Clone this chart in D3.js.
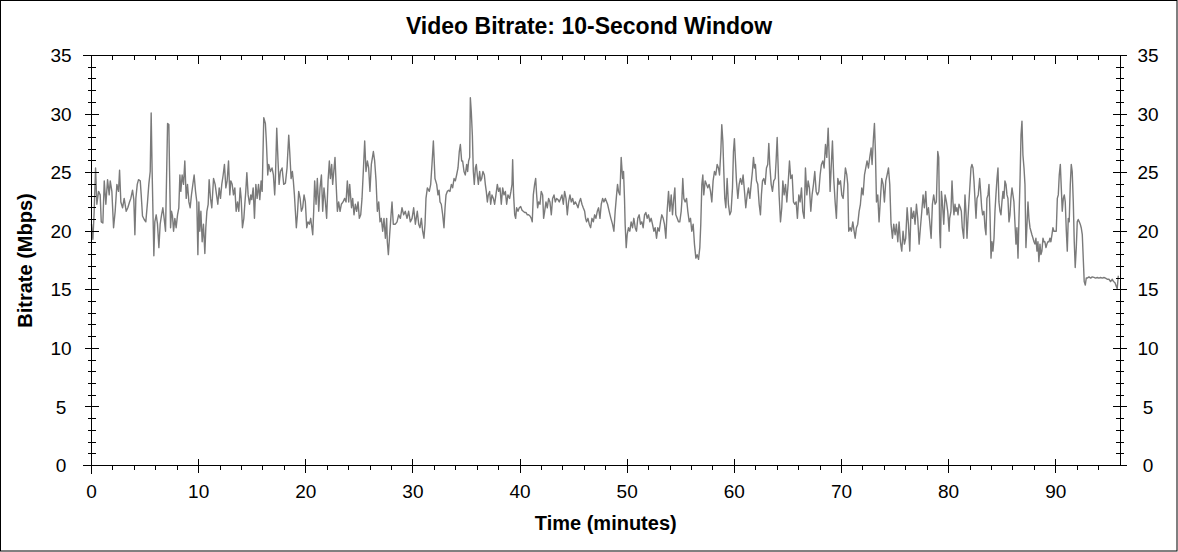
<!DOCTYPE html>
<html>
<head>
<meta charset="utf-8">
<script src="https://cdn.jsdelivr.net/npm/d3@7"></script>
<style>
  body { margin: 0; background: #fff; }
  svg { display: block; font-family: Arial, "Liberation Sans", sans-serif; }
</style>
</head>
<body>
<svg id="chart"></svg>
<script>
// bitrate readings [minutes, Mbps] in six chunks
var part1 = [[0,20.6],[0.13,19.3],[0.25,21.7],[0.38,25.4],[0.5,22.3],[0.66,23.4],[0.81,23.1],[0.91,20.8],[1.06,20.7],[1.19,24.3],[1.34,22.3],[1.5,24.4],[1.65,23.1],[1.75,24.3],[1.9,23.4],[2.06,20.3],[2.21,21.7],[2.37,24.0],[2.52,23.4],[2.62,25.2],[2.74,22.5],[2.9,22.0],[3.05,22.8],[3.24,21.7],[3.39,22.0],[3.55,22.5],[3.67,22.8],[3.83,23.5],[3.95,22.7],[4.05,19.7],[4.14,22.8],[4.27,24.0],[4.39,24.4],[4.55,24.3],[4.64,23.1],[4.76,21.3],[4.92,21.0],[5.07,20.8],[5.23,22.5],[5.35,24.0],[5.48,25.1],[5.57,30.1],[5.66,25.1],[5.76,20.6],[5.82,17.9],[5.91,20.8],[6.04,21.4],[6.16,20.6],[6.29,18.6],[6.41,20.6],[6.54,21.4],[6.66,22.0],[6.78,21.1],[6.91,20.0],[7.03,25.7],[7.1,29.2],[7.22,29.1],[7.28,25.4],[7.38,20.3],[7.47,21.7],[7.56,21.3],[7.66,20.0],[7.78,21.1],[7.9,20.3],[8.03,21.4],[8.15,22.0],[8.25,24.8],[8.34,23.4],[8.46,24.8],[8.59,24.0],[8.71,26.0],[8.84,22.8],[8.96,24.0],[9.09,22.5],[9.21,22.0],[9.33,23.1],[9.46,24.0],[9.58,24.8],[9.71,23.4],[9.83,22.5],[9.93,18.0],[10.02,22.5],[10.11,20.0],[10.21,21.7],[10.33,19.1],[10.45,20.6],[10.58,18.1],[10.67,20.3],[10.77,21.7],[10.89,22.3],[10.98,24.4],[11.11,22.8],[11.23,22.0],[11.39,24.5],[11.54,24.0],[11.67,23.1],[11.79,22.3],[11.92,23.7],[12.04,22.8],[12.16,24.0],[12.29,24.8],[12.41,25.7],[12.54,23.7],[12.66,24.3],[12.79,26.0],[12.91,23.1],[13.0,24.3],[13.13,24.0],[13.25,23.1],[13.38,23.7],[13.5,21.7],[13.63,22.5],[13.75,21.7],[13.88,23.7],[13.97,22.8],[14.09,20.3],[14.22,21.1],[14.31,22.3],[14.4,23.4],[14.5,25.0],[14.62,23.1],[14.75,22.3],[14.87,23.1],[14.96,22.7],[15.09,23.7],[15.21,21.1],[15.34,24.0],[15.46,22.8],[15.59,24.0],[15.71,22.7],[15.83,24.3],[15.93,23.4]];

var part2 = [[16.08,29.7],[16.23,29.2],[16.32,27.7],[16.45,24.8],[16.54,25.7],[16.7,25.1],[16.85,25.4],[16.98,24.8],[17.1,23.1],[17.16,24.3],[17.29,28.8],[17.41,26.0],[17.51,24.0],[17.63,25.1],[17.79,25.4],[17.94,24.0],[18.1,24.1],[18.25,25.4],[18.41,28.2],[18.5,26.8],[18.63,24.5],[18.75,25.1],[18.84,24.3],[18.94,23.1],[19.03,21.7],[19.12,20.3],[19.22,21.4],[19.34,23.4],[19.47,22.8],[19.59,21.7],[19.71,22.0],[19.84,23.1],[19.96,22.5],[20.09,20.3],[20.21,20.8],[20.34,20.6],[20.46,21.1],[20.65,19.7],[20.74,21.7],[20.83,24.3],[20.96,22.3],[21.08,24.5],[21.21,21.7],[21.33,23.7],[21.46,24.8],[21.58,21.7],[21.7,23.7],[21.83,22.5],[21.95,21.1],[22.08,24.3],[22.2,26.0],[22.3,24.5],[22.42,25.7],[22.51,24.0],[22.73,26.3],[22.82,24.3],[22.95,21.7],[23.07,22.5],[23.2,21.7],[23.32,22.3],[23.48,22.5],[23.63,22.8],[23.76,22.5],[23.88,24.3],[24.01,22.5],[24.1,24.0],[24.27,22.0],[24.38,22.8],[24.5,21.4],[24.63,22.3],[24.75,21.7],[24.88,22.5],[25.0,21.1],[25.13,21.4],[25.25,22.8],[25.37,25.1],[25.5,27.7],[25.62,25.1],[25.75,26.0],[25.87,25.4],[25.99,23.4],[26.12,25.7],[26.31,26.8],[26.43,26.0],[26.56,24.3],[26.68,21.7],[26.81,22.5],[26.93,20.8],[27.05,21.1],[27.18,20.0],[27.3,21.1],[27.43,19.4],[27.55,21.1],[27.61,19.1],[27.71,18.0],[27.83,19.7],[27.96,21.4],[28.05,22.5],[28.17,20.6],[28.36,20.6],[28.52,20.8],[28.67,21.4],[28.83,21.1],[28.98,22.0],[29.14,21.4],[29.29,21.7],[29.45,21.1],[29.6,21.7],[29.76,20.8],[29.92,21.1],[30.07,22.0],[30.23,20.6],[30.41,21.7],[30.54,20.6],[30.66,20.3],[30.79,21.1],[30.91,20.0],[31.03,19.4],[31.13,20.6],[31.22,22.8],[31.35,23.7],[31.53,23.4],[31.66,24.0],[31.78,25.7],[31.91,27.7]];

var part3 = [[32.06,24.5],[32.22,24.0],[32.34,23.1],[32.44,23.5],[32.53,22.5],[32.65,22.3],[32.78,21.4],[32.9,20.3],[33.0,22.0],[33.09,23.1],[33.21,23.4],[33.34,23.5],[33.46,23.4],[33.59,24.0],[33.71,23.7],[33.84,24.5],[33.96,24.3],[34.08,24.8],[34.21,25.4],[34.33,26.8],[34.43,27.4],[34.55,26.0],[34.64,26.0],[34.77,25.1],[34.89,24.8],[35.02,25.7],[35.11,25.1],[35.2,26.0],[35.3,26.3],[35.36,31.4],[35.45,30.2],[35.55,28.2],[35.64,25.1],[35.73,24.0],[35.83,25.4],[35.92,25.7],[36.01,24.8],[36.11,24.0],[36.23,25.1],[36.32,24.3],[36.42,24.5],[36.54,25.1],[36.67,24.8],[36.76,24.0],[36.85,23.4],[36.95,22.5],[37.04,23.1],[37.16,23.4],[37.26,22.3],[37.38,23.1],[37.51,22.8],[37.63,22.3],[37.75,23.1],[37.88,24.0],[38.0,23.4],[38.13,23.7],[38.25,22.3],[38.38,23.7],[38.5,23.1],[38.63,23.4],[38.75,22.3],[38.87,23.1],[39.03,22.8],[39.15,23.4],[39.25,24.0],[39.31,26.1],[39.4,23.1],[39.5,21.4],[39.59,21.1],[39.68,22.0],[39.81,21.7],[39.93,22.0],[40.06,22.1],[40.18,21.8],[40.3,21.7],[40.43,21.6],[40.55,21.6],[40.68,21.4],[40.8,21.4],[40.93,21.3],[41.05,21.1],[41.14,20.8],[41.24,23.1],[41.36,24.0],[41.46,24.5],[41.55,23.1],[41.64,22.0],[41.74,22.5],[41.86,22.3],[41.98,23.4],[42.11,23.1],[42.2,21.1],[42.3,21.7],[42.42,22.5],[42.54,22.0],[42.67,22.8],[42.79,22.5],[42.92,21.4],[43.04,22.8],[43.17,23.1],[43.29,22.5],[43.41,22.8],[43.54,22.7],[43.66,22.5],[43.79,22.8],[43.91,23.1],[44.04,22.3],[44.16,23.4],[44.29,22.8],[44.41,21.4],[44.53,22.5],[44.66,23.1],[44.78,22.5],[44.91,22.8],[45.03,22.3],[45.16,22.5],[45.28,22.3],[45.41,22.0],[45.53,22.5],[45.65,22.8],[45.78,22.3],[45.9,22.0],[46.03,21.7],[46.12,21.1],[46.21,20.8],[46.34,21.1],[46.46,20.6],[46.59,20.3],[46.71,21.1],[46.84,20.8],[46.96,21.4],[47.08,21.1],[47.21,21.7],[47.33,22.0],[47.46,21.1],[47.58,22.3],[47.71,22.8],[47.83,22.5],[47.96,22.8]];

var part4 = [[48.17,22.3],[48.32,21.7],[48.48,21.1],[48.63,20.6],[48.76,20.0],[48.88,21.7],[49.01,23.1],[49.1,24.0],[49.19,23.4],[49.32,23.1],[49.44,26.3],[49.57,24.5],[49.66,25.1],[49.75,22.8],[49.81,20.6],[49.91,18.6],[50.0,19.7],[50.12,20.3],[50.25,20.0],[50.37,20.8],[50.5,20.3],[50.62,21.1],[50.75,20.3],[50.87,20.0],[50.99,21.1],[51.12,21.4],[51.24,20.6],[51.37,20.8],[51.49,20.3],[51.62,21.4],[51.74,21.6],[51.87,21.1],[51.99,21.4],[52.12,20.8],[52.24,21.1],[52.36,20.6],[52.49,20.0],[52.61,20.3],[52.74,19.4],[52.86,20.3],[52.99,20.0],[53.11,20.8],[53.23,21.4],[53.36,21.1],[53.48,20.6],[53.61,19.4],[53.73,21.7],[53.86,23.4],[53.98,21.7],[54.11,23.1],[54.23,21.4],[54.35,22.8],[54.45,23.7],[54.54,21.4],[54.67,21.1],[54.79,20.8],[54.91,20.8],[55.04,21.7],[55.1,22.5],[55.19,24.5],[55.29,22.8],[55.41,22.5],[55.54,22.8],[55.66,21.7],[55.79,20.8],[55.91,21.1],[56.03,20.0],[56.16,20.6],[56.28,18.9],[56.41,17.7],[56.53,18.0],[56.66,17.6],[56.78,18.6],[56.87,20.6],[56.97,24.0],[57.06,24.8],[57.15,23.1],[57.28,24.3],[57.4,24.0],[57.53,23.7],[57.65,24.0],[57.78,23.4],[57.9,22.5],[58.02,24.3],[58.15,25.1],[58.27,24.8],[58.4,25.7],[58.52,25.4],[58.62,24.8],[58.74,26.8],[58.83,29.1],[58.93,27.7],[59.02,25.1],[59.11,22.8],[59.21,22.0],[59.33,24.5],[59.45,22.3],[59.58,21.4],[59.7,21.7],[59.83,23.7],[59.92,26.8],[60.01,27.9],[60.11,26.0],[60.2,24.3],[60.33,22.8],[60.45,24.0],[60.57,24.5],[60.7,24.0],[60.82,24.8],[60.95,23.4],[61.07,22.0],[61.2,23.1],[61.32,23.7],[61.45,22.8],[61.57,24.0],[61.69,25.1],[61.79,26.3],[61.88,25.4],[61.97,25.7],[62.07,24.3],[62.19,24.0],[62.32,22.3],[62.44,21.4],[62.53,23.1],[62.63,24.3],[62.75,24.5],[62.88,24.0],[63.0,25.4],[63.12,25.7],[63.22,27.5],[63.31,25.7],[63.44,24.0],[63.56,23.4],[63.68,24.3],[63.81,24.5],[63.9,26.0],[64.0,28.0]];

var part5 = [[64.18,23.1],[64.31,20.8],[64.43,22.0],[64.53,24.3],[64.65,23.1],[64.78,24.0],[64.9,22.5],[65.02,24.0],[65.15,26.0],[65.27,24.5],[65.4,24.8],[65.52,22.5],[65.65,22.3],[65.77,22.5],[65.89,21.1],[66.02,23.1],[66.14,22.5],[66.27,23.7],[66.39,21.7],[66.52,21.1],[66.64,25.4],[66.77,23.1],[66.89,24.3],[67.01,23.7],[67.14,21.7],[67.26,23.1],[67.39,24.0],[67.51,25.1],[67.64,23.4],[67.76,23.1],[67.89,23.4],[68.01,24.8],[68.13,25.7],[68.26,26.0],[68.38,25.4],[68.51,27.4],[68.63,26.3],[68.76,28.8],[68.85,26.5],[68.94,23.4],[69.04,25.4],[69.16,27.7],[69.28,24.5],[69.41,22.5],[69.53,21.1],[69.66,24.5],[69.78,24.0],[69.91,24.3],[70.03,23.1],[70.16,22.8],[70.28,24.3],[70.37,25.4],[70.5,24.8],[70.59,24.0],[70.68,20.0],[70.81,20.3],[70.93,20.0],[71.06,20.8],[71.18,20.0],[71.28,19.4],[71.4,20.3],[71.52,20.6],[71.65,21.7],[71.77,22.3],[71.9,23.7],[72.02,23.1],[72.15,24.8],[72.27,25.4],[72.39,26.0],[72.52,25.4],[72.64,26.3],[72.77,27.1],[72.86,25.7],[72.99,28.0],[73.08,29.2],[73.17,26.8],[73.27,22.5],[73.39,23.1],[73.51,20.8],[73.64,22.8],[73.76,24.5],[73.89,24.0],[74.01,22.5],[74.14,24.3],[74.26,24.8],[74.39,25.4],[74.51,24.0],[74.63,20.6],[74.76,19.4],[74.88,20.6],[75.01,19.7],[75.13,20.6],[75.26,19.1],[75.38,20.8],[75.5,19.1],[75.63,18.3],[75.75,20.0],[75.88,18.9],[76.0,19.4],[76.13,22.0],[76.25,20.6],[76.38,18.3],[76.5,22.0],[76.62,21.1],[76.75,21.7],[76.87,20.6],[77.0,22.3],[77.12,21.1],[77.25,18.9],[77.37,20.3],[77.5,21.7],[77.62,23.1],[77.74,22.0],[77.87,23.4],[77.99,21.4],[78.12,22.0],[78.24,20.8],[78.37,19.4],[78.49,22.3],[78.61,23.1],[78.74,22.3],[78.86,22.5],[78.99,26.8],[79.08,26.3],[79.17,20.0],[79.24,18.6],[79.33,23.4],[79.42,22.5],[79.55,20.6],[79.67,23.1],[79.8,22.5],[79.92,21.7],[80.05,20.0]];

var part6 = [[80.1,21.1],[80.22,21.7],[80.32,24.3],[80.41,22.5],[80.5,21.4],[80.6,22.3],[80.69,21.7],[80.78,22.0],[80.88,21.4],[80.97,22.3],[81.1,22.0],[81.19,21.7],[81.28,20.3],[81.41,19.4],[81.53,23.1],[81.62,21.7],[81.72,19.4],[81.81,21.1],[81.9,22.5],[82.0,24.0],[82.09,25.4],[82.18,25.7],[82.28,25.4],[82.37,24.3],[82.46,22.8],[82.56,21.1],[82.65,22.8],[82.77,23.1],[82.9,24.5],[82.99,23.4],[83.09,22.0],[83.18,21.4],[83.3,21.7],[83.4,20.3],[83.49,19.7],[83.58,22.8],[83.68,23.1],[83.77,24.0],[83.86,21.7],[83.96,17.7],[84.05,19.1],[84.14,18.3],[84.24,19.4],[84.33,21.7],[84.42,23.1],[84.52,24.5],[84.61,25.4],[84.7,22.5],[84.8,21.7],[84.89,21.4],[84.98,22.5],[85.08,23.4],[85.17,22.8],[85.26,24.3],[85.36,24.0],[85.45,23.1],[85.54,22.8],[85.64,20.8],[85.73,21.4],[85.82,22.8],[85.92,23.7],[86.01,23.1],[86.1,22.5],[86.2,20.6],[86.29,18.9],[86.38,20.3],[86.48,17.7],[86.57,21.1],[86.66,24.0],[86.76,28.2],[86.85,29.4],[86.94,26.5],[87.04,25.4],[87.13,24.0],[87.22,18.6],[87.32,20.6],[87.41,22.5],[87.5,21.1],[87.6,20.3],[87.69,20.0],[87.78,19.7],[87.88,19.4],[87.97,19.1],[88.06,18.9],[88.15,19.4],[88.25,18.3],[88.34,19.1],[88.43,17.4],[88.53,18.9],[88.62,18.0],[88.71,18.3],[88.81,19.4],[88.9,19.1],[88.99,19.1],[89.09,18.6],[89.18,18.9],[89.27,19.1],[89.37,19.1],[89.46,19.4],[89.55,19.1],[89.65,19.7],[89.74,20.3],[89.83,20.0],[89.96,20.0],[90.05,20.0],[90.15,22.8],[90.24,23.1],[90.33,24.8],[90.43,25.7],[90.52,23.7],[90.61,21.7],[90.71,22.8],[90.8,23.1],[90.89,22.5],[90.99,20.0],[91.08,18.3],[91.17,21.1],[91.26,20.8],[91.36,24.0],[91.45,25.7],[91.54,25.1],[91.64,22.5],[91.73,19.1],[91.82,16.9],[91.92,18.6],[92.01,20.8],[92.1,21.0],[92.2,20.8],[92.29,20.6],[92.38,20.3],[92.48,19.7],[92.57,17.7],[92.66,15.7],[92.76,15.4],[92.85,16.0],[92.94,16.0],[93.1,16.1],[93.26,16.0],[93.41,16.1],[93.57,16.06],[93.72,16.0],[93.88,16.05],[94.03,16.0],[94.19,16.05],[94.34,16.0],[94.5,16.05],[94.65,16.0],[94.81,15.9],[94.97,15.9],[95.12,15.7],[95.28,15.9],[95.4,15.7],[95.53,15.6],[95.65,15.3],[95.74,15.1],[95.84,16.2]];

var xTicks = [0, 10, 20, 30, 40, 50, 60, 70, 80, 90];
var yTicks = [0, 5, 10, 15, 20, 25, 30, 35];

var W = 1178, H = 552;
var data = part1.concat(part2, part3, part4, part5, part6);

var svg = d3.select("#chart").attr("width", W).attr("height", H);

svg.append("rect")
  .attr("x", 0.5).attr("y", 0.5)
  .attr("width", W - 1.5).attr("height", H - 1.5)
  .attr("fill", "#fff").attr("stroke", "#000");

var x = d3.scaleLinear().domain([0, 96]).range([91.5, 1120]);
var y = d3.scaleLinear().domain([0, 35]).range([465.5, 55.5]);

var minorX = d3.range(0, 96, 2);
var minorY = d3.range(0, 36, 1);

// data line first, axes on top
svg.append("path")
  .datum(data)
  .attr("fill", "none")
  .attr("stroke", "#7a7a7a")
  .attr("stroke-width", 1.4)
  .attr("stroke-linejoin", "round")
  .attr("d", d3.line().x((d) => x(d[0])).y((d) => y(d[1])));

var ax = svg.append("g")
  .attr("stroke", "#000")
  .attr("stroke-width", 1)
  .attr("shape-rendering", "crispEdges");

// frame lines
ax.append("line").attr("x1", 83).attr("x2", 1127).attr("y1", y(35)).attr("y2", y(35));
ax.append("line").attr("x1", 83).attr("x2", 1127).attr("y1", y(0)).attr("y2", y(0));
ax.append("line").attr("x1", x(0)).attr("x2", x(0)).attr("y1", y(35)).attr("y2", y(0) + 8);
ax.append("line").attr("x1", x(96)).attr("x2", x(96)).attr("y1", y(35)).attr("y2", y(0));

// bottom ticks
ax.selectAll(".bminor").data(minorX.filter((d) => d % 10 != 0)).join("line")
  .attr("x1", (d) => x(d)).attr("x2", (d) => x(d))
  .attr("y1", y(0)).attr("y2", y(0) + 4.5);
ax.selectAll(".bmajor").data(xTicks.slice(1)).join("line")
  .attr("x1", (d) => x(d)).attr("x2", (d) => x(d))
  .attr("y1", y(0) - 7).attr("y2", y(0) + 7);

// top ticks
ax.selectAll(".tminor").data(minorX.filter((d) => d % 10 != 0)).join("line")
  .attr("x1", (d) => x(d)).attr("x2", (d) => x(d))
  .attr("y1", y(35)).attr("y2", y(35) + 4.5);
ax.selectAll(".tmajor").data(xTicks.slice(1)).join("line")
  .attr("x1", (d) => x(d)).attr("x2", (d) => x(d))
  .attr("y1", y(35)).attr("y2", y(35) + 8);

// left and right ticks
[x(0), x(96)].forEach(function (px) {
  ax.append("g").selectAll("line").data(minorY.filter((d) => d % 5 != 0)).join("line")
    .attr("x1", px - 4).attr("x2", px + 4)
    .attr("y1", (d) => y(d)).attr("y2", (d) => y(d));
  ax.append("g").selectAll("line").data(yTicks.slice(1, -1)).join("line")
    .attr("x1", px - 7).attr("x2", px + 7)
    .attr("y1", (d) => y(d)).attr("y2", (d) => y(d));
});

// tick labels
var lab = svg.append("g").attr("font-size", "19px").attr("fill", "#000").attr("text-anchor", "middle");
lab.selectAll(".xl").data(xTicks).join("text")
  .attr("x", (d) => x(d)).attr("y", 498)
  .text((d) => d);
lab.append("g").selectAll("text").data(yTicks).join("text")
  .attr("x", 61).attr("y", (d) => y(d)).attr("dy", "0.35em")
  .text((d) => d);
lab.append("g").selectAll("text").data(yTicks).join("text")
  .attr("x", 1148).attr("y", (d) => y(d)).attr("dy", "0.35em")
  .text((d) => d);

svg.append("text")
  .attr("x", 589).attr("y", 34)
  .attr("text-anchor", "middle")
  .attr("font-size", "23px").attr("font-weight", "bold")
  .text("Video Bitrate: 10-Second Window");

svg.append("text")
  .attr("x", (x(0) + x(96)) / 2).attr("y", 530)
  .attr("text-anchor", "middle")
  .attr("font-size", "20px").attr("font-weight", "bold")
  .text("Time (minutes)");

svg.append("text")
  .attr("transform", "translate(32," + (y(0) + y(35)) / 2 + ") rotate(-90)")
  .attr("text-anchor", "middle")
  .attr("font-size", "20px").attr("font-weight", "bold")
  .text("Bitrate (Mbps)");
</script>
</body>
</html>
